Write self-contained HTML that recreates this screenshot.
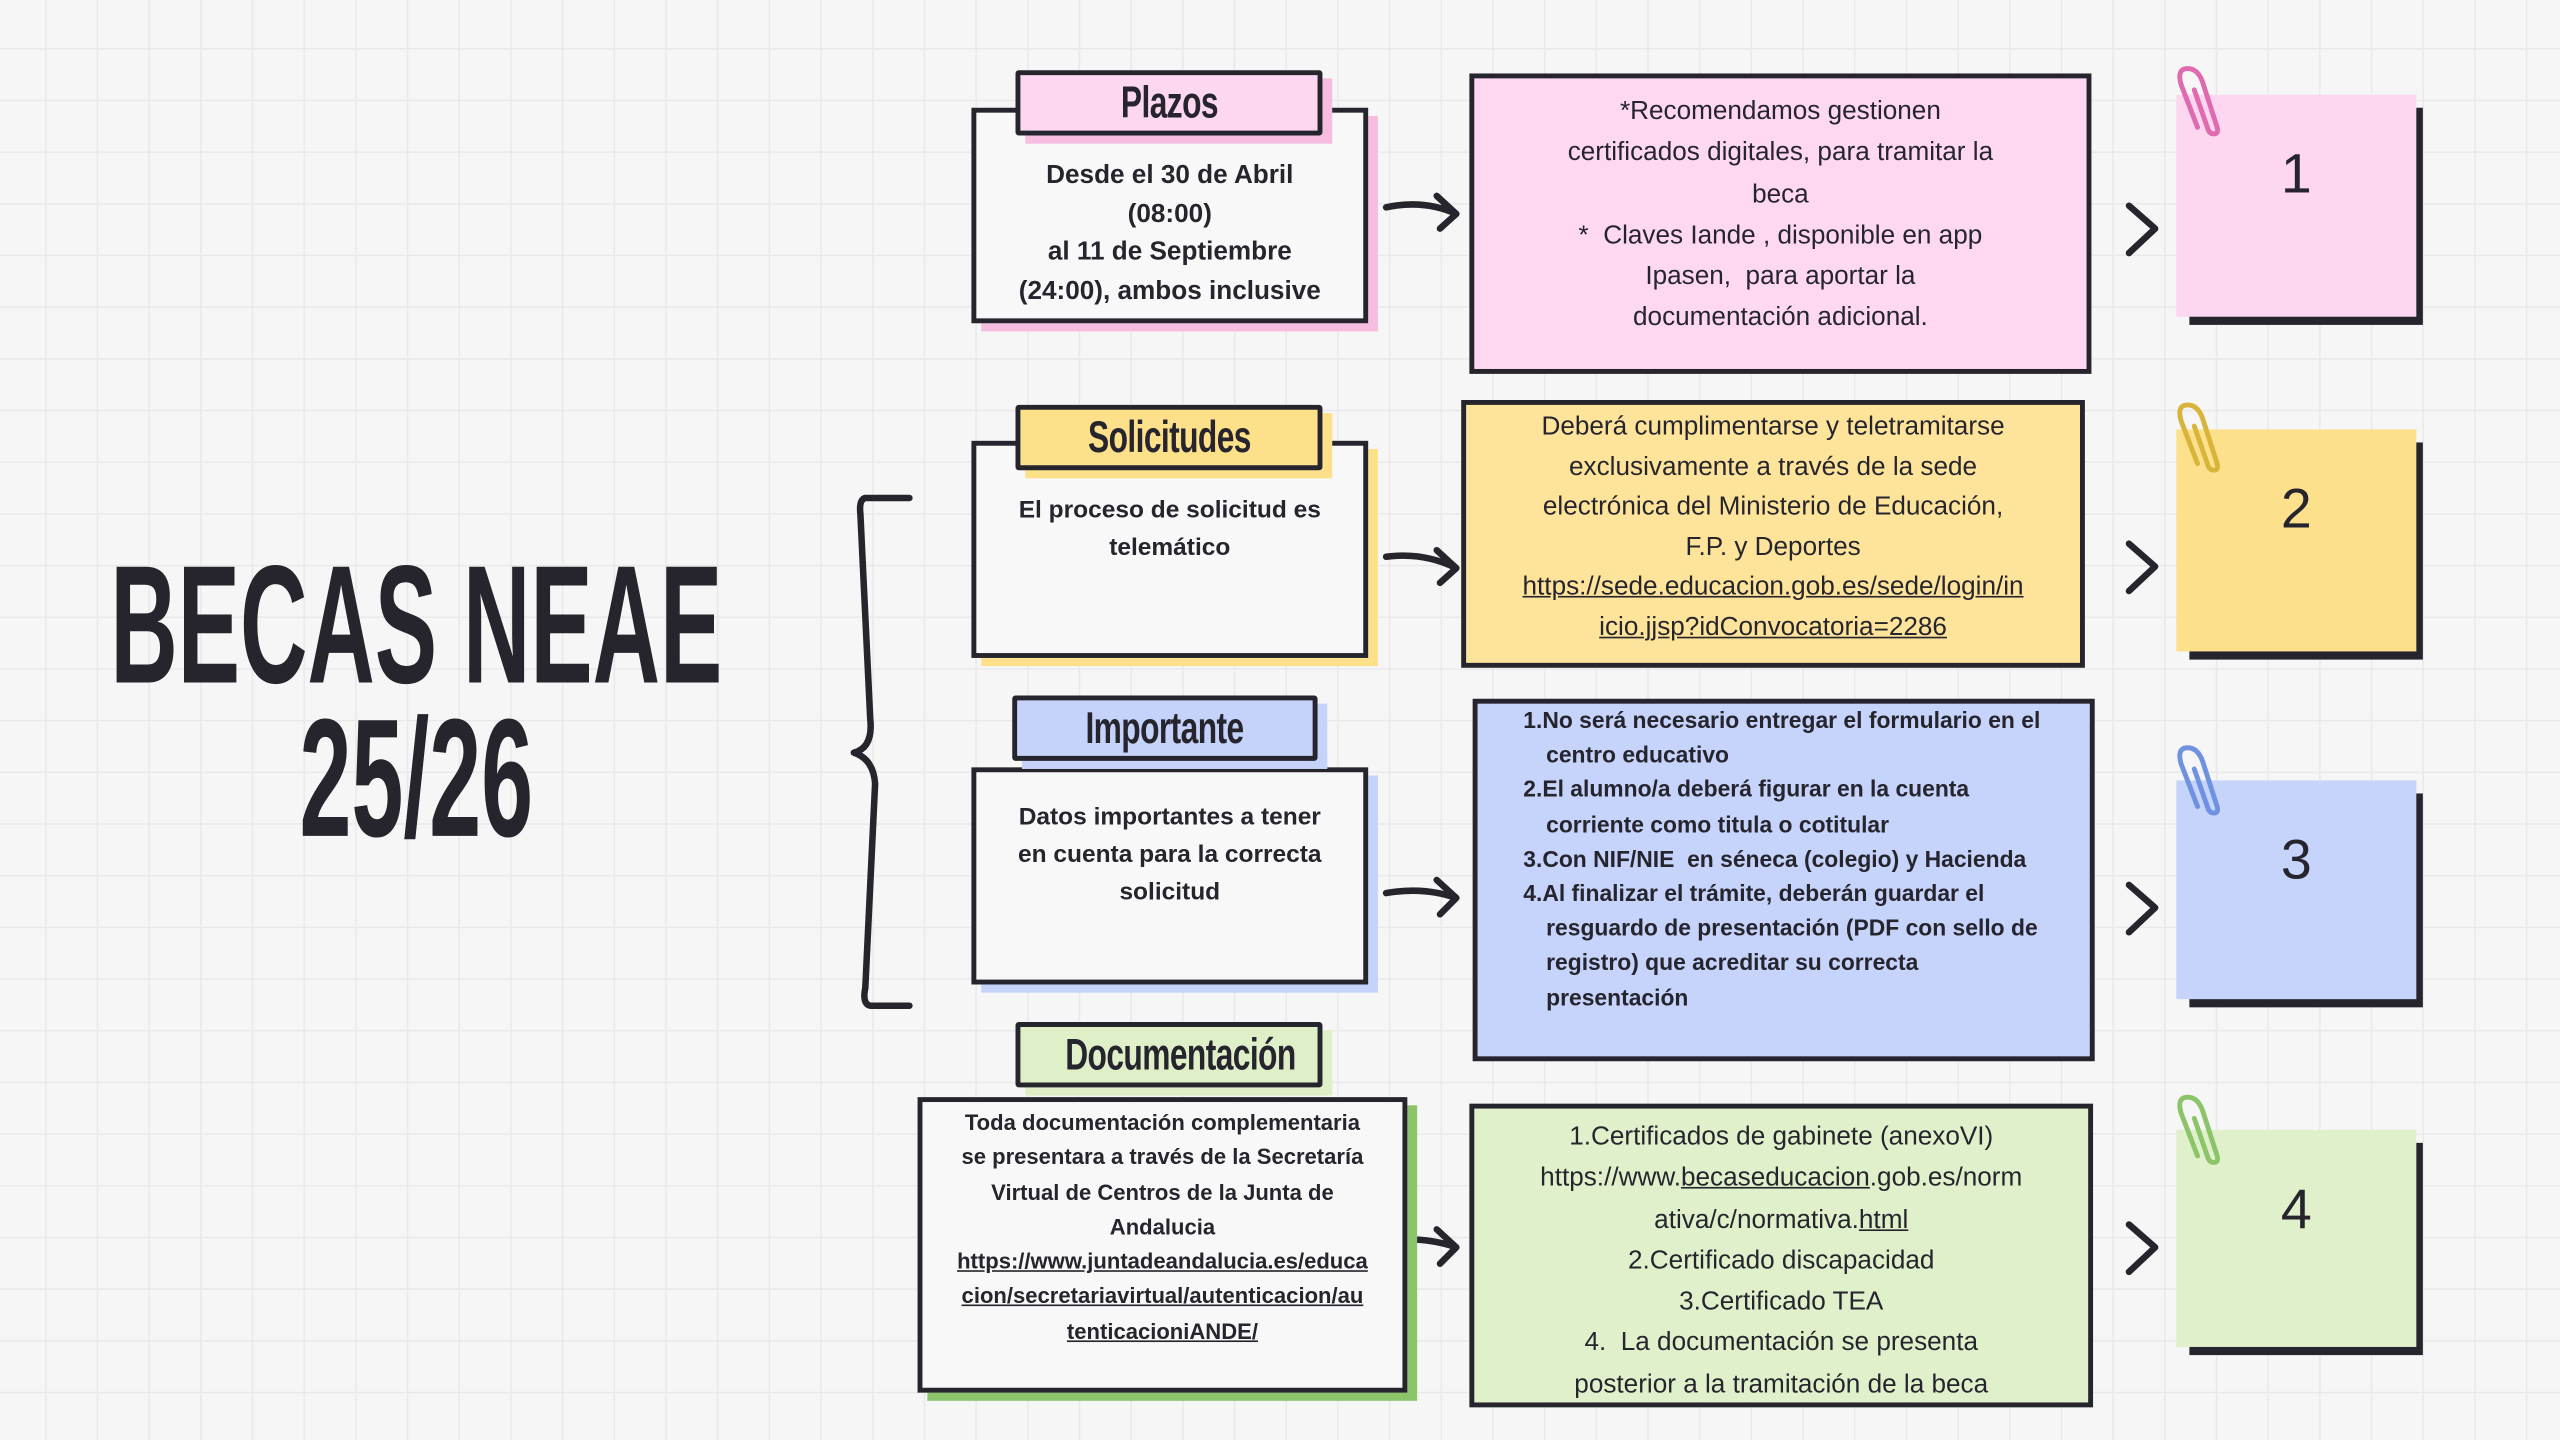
<!DOCTYPE html>
<html><head><meta charset="utf-8"><style>
html,body{margin:0;padding:0;width:2560px;height:1440px;overflow:hidden;background:#f6f6f6;}
#w{position:absolute;left:0;top:0;width:1568px;height:882px;transform:scale(1.632653);transform-origin:0 0;
background-color:#f6f6f6;
background-image:linear-gradient(#e9e9e9 1px,transparent 1px),linear-gradient(90deg,#e9e9e9 1px,transparent 1px);
background-size:31.66px 31.66px;background-position:27.6px 29.4px;
font-family:"Liberation Sans",sans-serif;color:#26252e;}
.a{position:absolute;box-sizing:border-box;}
.lbl{border:3px solid #26252e;text-align:center;font-weight:bold;font-size:27px;line-height:34px;border-radius:2px;}
.lbl span{display:inline-block;transform:scaleX(0.72);letter-spacing:-0.5px;}
.box{background:#f8f8f8;border:3px solid #26252e;text-align:center;font-weight:bold;font-size:15px;}
.tb{border:3px solid #26252e;text-align:center;font-size:16px;line-height:25.3px;}
.st{position:absolute;}
.st .d{position:absolute;left:8px;top:8px;right:-4px;bottom:-5px;background:#26252e;}
.st .f{position:absolute;left:0;top:0;right:0;bottom:0;}
.st .n{position:absolute;left:0;right:0;top:30px;text-align:center;font-size:34px;}
u{text-decoration:underline;}
.tt{white-space:nowrap;transform:scaleX(0.555);}
</style></head><body><div id="w">

<div class="a" style="left:-200px;top:336px;width:910px;text-align:center;font-weight:bold;font-size:103px;line-height:94px;">
<div class="tt">BECAS NEAE</div>
<div class="tt">25/26</div></div>

<svg class="a" style="left:0;top:0" width="1568" height="882">
<g fill="none" stroke="#26252e" stroke-width="4" stroke-linecap="round" stroke-linejoin="round">
<path d="M557,305 L530,305 Q526,306 527,315 L533,440 Q535,458 523,461 Q535,465 536,480 L530,605 Q528,615 533,616 L557,616"/>
<path d="M849,127 Q872,122 892,131 M880,120 L892,131 L882,140"/>
<path d="M849,341 Q872,338 892,348 M880,337 L892,348 L882,357"/>
<path d="M849,547 Q872,543 892,550 M880,539 L892,550 L882,560"/>
<path d="M849,760 Q872,757 892,764 M880,753 L892,764 L882,774"/>
<path d="M1304,126 L1320,140 L1304,155"/>
<path d="M1304,333 L1320,347 L1304,362"/>
<path d="M1304,542 L1320,556 L1304,571"/>
<path d="M1304,750 L1320,764 L1304,779"/>
</g>
</svg>

<!-- Row 1 -->
<div class="a" style="left:601px;top:71px;width:243px;height:132px;background:#f6bde0"></div>
<div class="a box" style="left:595px;top:66px;width:243px;height:132px;padding-top:27px;font-size:16px;line-height:23.6px">Desde el 30 de Abril<br>(08:00)<br>al 11 de Septiembre<br>(24:00), ambos inclusive</div>
<div class="a" style="left:628px;top:48px;width:188px;height:40px;background:#f6bde0"></div>
<div class="a lbl" style="left:622px;top:43px;width:188px;height:40px;background:#fcd7ef"><span>Plazos</span></div>
<div class="a tb" style="left:900px;top:45px;width:381px;height:184px;background:#fdd8f0;padding-top:8px">*Recomendamos gestionen<br>certificados digitales, para tramitar la<br>beca<br>*&nbsp; Claves Iande , disponible en app<br>Ipasen,&nbsp; para aportar la<br>documentación adicional.</div>
<div class="st" style="left:1333px;top:58px;width:147px;height:136px"><div class="d"></div><div class="f" style="background:#fdd6f0"></div><div class="n">1</div></div>

<!-- Row 2 -->
<div class="a" style="left:601px;top:275px;width:243px;height:133px;background:#fde08a"></div>
<div class="a box" style="left:595px;top:270px;width:243px;height:133px;padding-top:28px;line-height:23px">El proceso de solicitud es<br>telemático</div>
<div class="a" style="left:628px;top:253px;width:188px;height:40px;background:#fde08a"></div>
<div class="a lbl" style="left:622px;top:248px;width:188px;height:40px;background:#fde08a"><span>Solicitudes</span></div>
<div class="a tb" style="left:895px;top:245px;width:382px;height:164px;background:#fee49a;padding-top:2px;line-height:24.6px">Deberá cumplimentarse y teletramitarse<br>exclusivamente a través de la sede<br>electrónica del Ministerio de Educación,<br>F.P. y Deportes<br><u>https://sede.educacion.gob.es/sede/login/in</u><br><u>icio.jjsp?idConvocatoria=2286</u></div>
<div class="st" style="left:1333px;top:263px;width:147px;height:136px"><div class="d"></div><div class="f" style="background:#fde08c"></div><div class="n">2</div></div>

<!-- Row 3 -->
<div class="a" style="left:601px;top:475px;width:243px;height:133px;background:#c5d3fb"></div>
<div class="a box" style="left:595px;top:470px;width:243px;height:133px;padding-top:16px;line-height:23px">Datos importantes a tener<br>en cuenta para la correcta<br>solicitud</div>
<div class="a" style="left:626px;top:431px;width:187px;height:40px;background:#c5d3fb"></div>
<div class="a lbl" style="left:620px;top:426px;width:187px;height:40px;background:#c5d3fb"><span>Importante</span></div>
<div class="a tb" style="left:902px;top:428px;width:381px;height:222px;background:#c6d3fb;text-align:left;font-size:14px;font-weight:bold;line-height:21.2px;padding:0 14px 0 42px">
<div style="text-indent:-14px">1.No será necesario entregar el formulario en el centro educativo</div>
<div style="text-indent:-14px">2.El alumno/a deberá figurar en la cuenta corriente como titula o cotitular</div>
<div style="text-indent:-14px">3.Con NIF/NIE&nbsp; en séneca (colegio) y Hacienda</div>
<div style="text-indent:-14px">4.Al finalizar el trámite, deberán guardar el resguardo de presentación (PDF con sello de registro) que acreditar su correcta<br>presentación</div></div>
<div class="st" style="left:1333px;top:478px;width:147px;height:134px"><div class="d"></div><div class="f" style="background:#c6d3fb"></div><div class="n">3</div></div>

<!-- Row 4 -->
<div class="a" style="left:568px;top:677px;width:300px;height:181px;background:#8cc46a"></div>
<div class="a box" style="left:562px;top:672px;width:300px;height:181px;padding-top:2px;font-size:13.5px;line-height:21.3px">Toda documentación complementaria<br>se presentara a través de la Secretaría<br>Virtual de Centros de la Junta de<br>Andalucia<br><u>https://www.juntadeandalucia.es/educa</u><br><u>cion/secretariavirtual/autenticacion/au</u><br><u>tenticacioniANDE/</u></div>
<div class="a" style="left:628px;top:631px;width:188px;height:40px;background:#dff0c9"></div>
<div class="a lbl" style="left:622px;top:626px;width:188px;height:40px;background:#dff0c9"><span>Documentación</span></div>
<div class="a tb" style="left:900px;top:676px;width:382px;height:186px;background:#e0f0ca;padding-top:5px">1.Certificados de gabinete (anexoVI)<br>https://www.<u>becaseducacion</u>.gob.es/norm<br>ativa/c/normativa.<u>html</u><br>2.Certificado discapacidad<br>3.Certificado TEA<br>4.&nbsp; La documentación se presenta<br>posterior a la tramitación de la beca</div>
<div class="st" style="left:1333px;top:692px;width:147px;height:133px"><div class="d"></div><div class="f" style="background:#e0f0ca"></div><div class="n">4</div></div>

<svg class="a" style="left:0;top:0" width="1568" height="882">
<g fill="none" stroke-width="3" stroke-linecap="round">
<path stroke="#e06aaf" d="M1346,78 L1336,52 Q1333,42 1340,42 Q1346,42 1349,50 L1358,78 Q1359,82 1356,82 Q1353,82 1352,78 L1344,55"/>
<path stroke="#d8b43a" d="M1346,284 L1336,258 Q1333,248 1340,248 Q1346,248 1349,256 L1358,284 Q1359,288 1356,288 Q1353,288 1352,284 L1344,261"/>
<path stroke="#6f92e0" d="M1346,494 L1336,468 Q1333,458 1340,458 Q1346,458 1349,466 L1358,494 Q1359,498 1356,498 Q1353,498 1352,494 L1344,471"/>
<path stroke="#8cc46a" d="M1346,708 L1336,682 Q1333,672 1340,672 Q1346,672 1349,680 L1358,708 Q1359,712 1356,712 Q1353,712 1352,708 L1344,685"/>
</g></svg>

</div></body></html>
